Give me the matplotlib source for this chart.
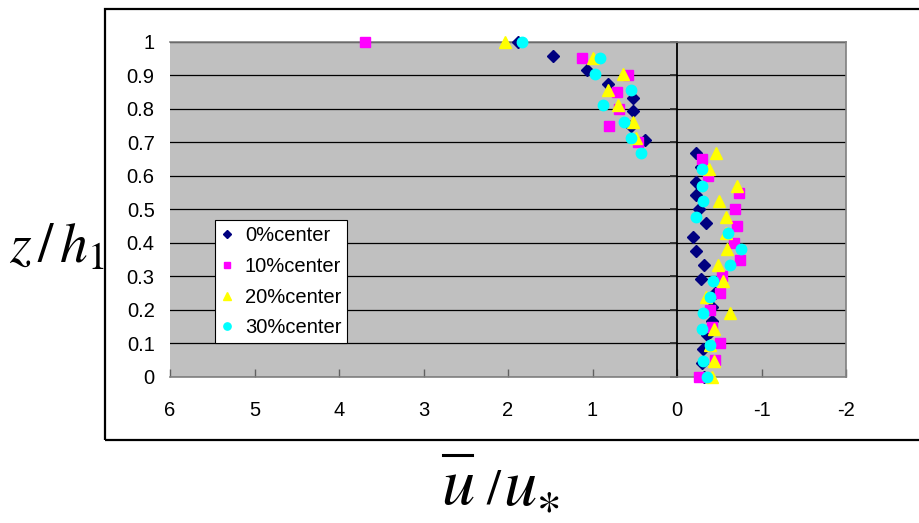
import matplotlib
matplotlib.use("Agg")
import matplotlib.pyplot as plt
from matplotlib.patches import Rectangle
from matplotlib.lines import Line2D

plt.rcParams['font.family'] = ['Liberation Sans', 'DejaVu Sans']
plt.rcParams['mathtext.fontset'] = 'stix'

# ---- data ----
series_names = ["0%center", "10%center", "20%center", "30%center"]

z0 = [1.0, 0.958, 0.917, 0.875, 0.833, 0.792, 0.75, 0.708, 0.667, 0.625, 0.583, 0.542,
      0.5, 0.458, 0.417, 0.375, 0.333, 0.292, 0.25, 0.208, 0.167, 0.125, 0.083, 0.042, 0.0]
u0 = [1.88, 1.47, 1.06, 0.82, 0.52, 0.52, 0.54, 0.38, -0.23, -0.28, -0.23, -0.23,
      -0.26, -0.34, -0.19, -0.22, -0.32, -0.28, -0.45, -0.42, -0.42, -0.36, -0.31, -0.30, -0.32]

z10 = [1.0, 0.95, 0.9, 0.85, 0.8, 0.75, 0.7, 0.65, 0.6, 0.55, 0.5, 0.45, 0.4, 0.35,
       0.3, 0.25, 0.2, 0.15, 0.1, 0.05, 0.0]
u10 = [3.69, 1.13, 0.58, 0.71, 0.69, 0.80, 0.46, -0.29, -0.37, -0.73, -0.69, -0.71,
       -0.67, -0.74, -0.53, -0.51, -0.39, -0.41, -0.51, -0.45, -0.26]

z20 = [1.0, 0.952, 0.905, 0.857, 0.81, 0.762, 0.714, 0.667, 0.619, 0.571, 0.524, 0.476,
       0.429, 0.381, 0.333, 0.286, 0.238, 0.19, 0.143, 0.095, 0.048, 0.0]
u20 = [2.03, 1.00, 0.64, 0.82, 0.70, 0.52, 0.48, -0.46, -0.38, -0.71, -0.50, -0.58,
       -0.58, -0.59, -0.48, -0.54, -0.34, -0.63, -0.44, -0.39, -0.44, -0.42]

z30 = [1.0, 0.952, 0.905, 0.857, 0.81, 0.762, 0.714, 0.667, 0.619, 0.571, 0.524, 0.476,
       0.429, 0.381, 0.333, 0.286, 0.238, 0.19, 0.143, 0.095, 0.048, 0.0]
u30 = [1.84, 0.91, 0.97, 0.55, 0.88, 0.63, 0.55, 0.43, -0.29, -0.29, -0.31, -0.23,
       -0.60, -0.76, -0.63, -0.43, -0.39, -0.31, -0.29, -0.39, -0.31, -0.35]

x_ticks = [6, 5, 4, 3, 2, 1, 0, -1, -2]
x_tick_labels = ["6", "5", "4", "3", "2", "1", "0", "-1", "-2"]
y_ticks = [0, 0.1, 0.2, 0.3, 0.4, 0.5, 0.6, 0.7, 0.8, 0.9, 1.0]
y_tick_labels = ["0", "0.1", "0.2", "0.3", "0.4", "0.5", "0.6", "0.7", "0.8", "0.9", "1"]

# ---- styles ----
styles = [
    dict(marker="D", color="#000080", ms=6.5),
    dict(marker="s", color="#FF00FF", ms=6.5),
    dict(marker="^", color="#FFFF00", ms=8.5),
    dict(marker="o", color="#00FFFF", ms=7.5),
]
tick_fs = 14.5

fig = plt.figure(figsize=(9.19, 5.23), dpi=100)
ax = fig.add_axes([170/919, 1-377/523, (846-170)/919, (377-41.7)/523])
ax.set_facecolor("#C0C0C0")

# outer frame
fig.patches.append(Rectangle((105/919, 1-440/523), 0.95, (440-9)/523,
                             transform=fig.transFigure, fill=False,
                             edgecolor="black", lw=1.6, clip_on=False, zorder=0))

ax.set_xlim(6, -2)
ax.set_ylim(0, 1)

# horizontal grid
ax.set_yticks(y_ticks)
ax.yaxis.grid(True, color="black", lw=0.9)
ax.set_axisbelow(True)

for sp in ["top", "right", "bottom"]:
    ax.spines[sp].set_color("#808080")
    ax.spines[sp].set_linewidth(1.2)
ax.spines["left"].set_position(("data", 0))
ax.spines["left"].set_color("black")
ax.spines["left"].set_linewidth(1.3)
ax.spines["left"].set_zorder(1.5)

ax.tick_params(axis="y", direction="out", length=5, width=1.3, color="#303030",
               labelleft=False)
ax.set_xticks(x_ticks)
ax.set_xticklabels(x_tick_labels, fontsize=tick_fs)
ax.tick_params(axis="x", direction="in", length=6, width=1, color="#606060", pad=17)

sec = ax.secondary_yaxis(0.0)
sec.set_yticks(y_ticks)
sec.set_yticklabels(y_tick_labels, fontsize=tick_fs)
sec.tick_params(length=0, pad=11)
sec.spines["left"].set_visible(False)

data = [(u0, z0), (u10, z10), (u20, z20), (u30, z30)]
for (u, z), st, name in zip(data, styles, series_names):
    ax.plot(u, z, linestyle="none", marker=st["marker"], ms=st["ms"],
            mfc=st["color"], mec=st["color"], label=name, clip_on=False, zorder=3)

leg = ax.legend(loc="lower left", bbox_to_anchor=(0.066, 0.10), borderaxespad=0,
                fontsize=14.5, frameon=True, fancybox=False, edgecolor="black",
                framealpha=1, markerscale=0.7, handlelength=0.6, handletextpad=0.6,
                labelspacing=0.58, borderpad=0.3)
leg.get_frame().set_linewidth(0.8)

# y label
fig.text(57/919, 1-263/523, r"$z\,/\,h_1$", fontsize=40, ha="center", va="baseline")

# x label  (u-bar / u_*), built from pieces
ybase = 1 - 504/523
fig.text(458/919, ybase, r"$u$", fontsize=48, ha="center", va="baseline")
fig.text(494/919, ybase, r"$/$", fontsize=36, ha="center", va="baseline")
fig.text(503/919, ybase, r"$u_{\ast}$", fontsize=48, ha="left", va="baseline")
fig.add_artist(Line2D([443/919, 472/919], [1-455/523, 1-455/523], color="black",
                      lw=2.2, transform=fig.transFigure))

fig.savefig("out.png", dpi=100)
